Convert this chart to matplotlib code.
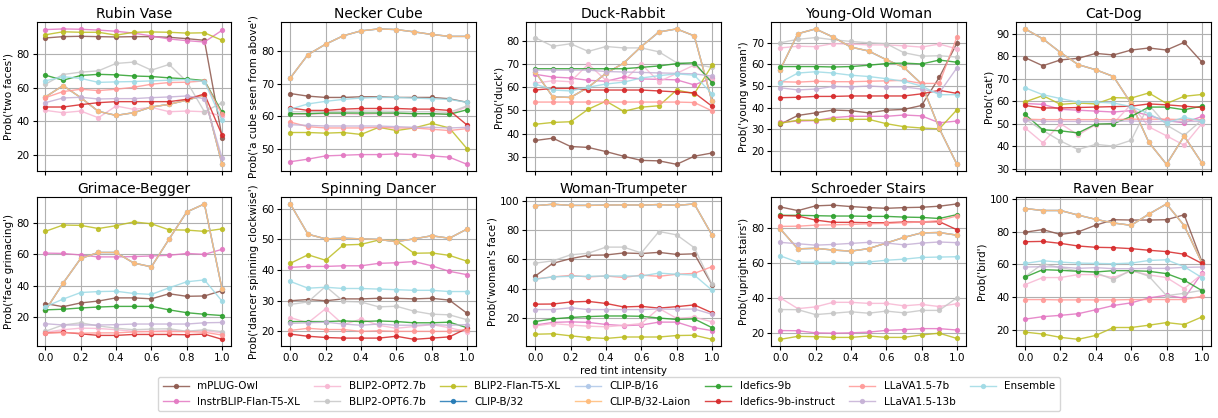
import matplotlib
matplotlib.use('Agg')
import matplotlib.pyplot as plt
from matplotlib.ticker import MultipleLocator

x = [0.0, 0.1, 0.2, 0.3, 0.4, 0.5, 0.6, 0.7, 0.8, 0.9, 1.0]

models = ['mPLUG-Owl', 'InstrBLIP-Flan-T5-XL', 'BLIP2-OPT2.7b', 'BLIP2-OPT6.7b',
          'BLIP2-Flan-T5-XL', 'CLIP-B/32', 'CLIP-B/16', 'CLIP-B/32-Laion',
          'Idefics-9b', 'Idefics-9b-instruct', 'LLaVA1.5-7b', 'LLaVA1.5-13b', 'Ensemble']
colors = ['#8c564b', '#e377c2', '#f7b6d2', '#c7c7c7', '#bcbd22', '#1f77b4', '#aec7e8',
          '#ffbb78', '#2ca02c', '#d62728', '#ff9896', '#c5b0d5', '#9edae5']

titles = ['Rubin Vase', 'Necker Cube', 'Duck-Rabbit', 'Young-Old Woman', 'Cat-Dog',
          'Grimace-Begger', 'Spinning Dancer', 'Woman-Trumpeter', 'Schroeder Stairs', 'Raven Bear']
ylabels = ["Prob('two faces')", "Prob('a cube seen from above')", "Prob('duck')",
           "Prob('young woman')", "Prob('cat')", "Prob('face grimacing')",
           "Prob('dancer spinning clockwise')", "Prob('woman's face')",
           "Prob('upright stairs')", "Prob('bird')"]
ysteps = [20, 10, 10, 10, 10, 20, 10, 20, 20, 20]

# the three CLIP models give the same curve, stored once under 'CLIP'
rubin = {
    'mPLUG-Owl': [89.6, 90.4, 90.6, 90.4, 90.2, 90.4, 90.4, 90.0, 89.2, 88.2, 30.2],
    'InstrBLIP-Flan-T5-XL': [94.6, 95.0, 94.8, 94.3, 93.6, 92.5, 90.8, 89.0, 88.0, 87.2, 94.2],
    'BLIP2-OPT2.7b': [46.4, 45.0, 46.0, 42.0, 49.0, 47.0, 48.2, 45.6, 46.0, 45.6, 43.0],
    'BLIP2-OPT6.7b': [62.0, 67.8, 69.2, 70.0, 74.4, 75.2, 70.4, 73.8, 63.6, 45.6, 51.0],
    'BLIP2-Flan-T5-XL': [91.5, 93.3, 93.0, 93.0, 91.3, 93.0, 93.2, 93.0, 92.5, 92.7, 88.2],
    'CLIP': [54.4, 61.2, 54.0, 45.8, 43.4, 45.0, 48.4, 50.0, 52.5, 55.4, 14.2],
    'Idefics-9b': [67.4, 64.4, 67.2, 67.9, 67.6, 66.9, 66.6, 65.8, 65.2, 64.2, 45.2],
    'Idefics-9b-instruct': [48.4, 48.4, 49.8, 51.0, 51.6, 51.6, 51.6, 51.6, 53.0, 56.2, 31.6],
    'LLaVA1.5-7b': [54.0, 57.6, 59.0, 58.2, 59.0, 60.2, 62.0, 63.0, 63.2, 64.0, 44.0],
    'LLaVA1.5-13b': [51.0, 53.8, 54.2, 53.2, 53.4, 53.4, 54.0, 54.4, 55.0, 53.4, 18.0],
    'Ensemble': [64.0, 66.5, 65.5, 63.1, 63.4, 63.6, 64.0, 64.4, 64.8, 63.6, 40.4],
}
necker = {
    'mPLUG-Owl': [67.0, 66.2, 65.8, 65.8, 66.0, 66.0, 65.8, 65.8, 65.8, 65.4, 64.3],
    'InstrBLIP-Flan-T5-XL': [46.0, 46.8, 47.8, 48.0, 48.2, 48.2, 48.4, 48.2, 47.8, 47.4, 45.2],
    'BLIP2-OPT2.7b': [60.6, 60.6, 60.8, 60.8, 60.6, 60.8, 60.8, 60.8, 60.8, 60.6, 63.0],
    'BLIP2-OPT6.7b': [61.4, 61.4, 61.5, 61.5, 61.6, 61.6, 61.5, 61.4, 61.4, 61.2, 63.2],
    'BLIP2-Flan-T5-XL': [55.0, 55.0, 54.8, 55.0, 54.4, 56.6, 55.6, 56.4, 57.8, 56.4, 50.0],
    'CLIP': [71.8, 79.0, 82.2, 84.8, 86.3, 86.9, 86.7, 86.0, 85.2, 84.6, 84.6],
    'Idefics-9b': [60.8, 60.8, 61.0, 61.0, 61.0, 61.0, 61.0, 60.8, 60.8, 60.6, 62.0],
    'Idefics-9b-instruct': [62.6, 61.8, 61.8, 62.2, 62.4, 62.4, 62.4, 62.2, 62.2, 61.8, 57.3],
    'LLaVA1.5-7b': [58.2, 56.8, 56.4, 56.4, 56.4, 56.6, 56.4, 56.4, 56.0, 55.6, 56.2],
    'LLaVA1.5-13b': [57.4, 57.2, 57.0, 57.0, 57.0, 57.0, 56.8, 56.6, 56.6, 56.4, 56.6],
    'Ensemble': [62.2, 63.8, 64.6, 65.2, 65.6, 65.8, 65.8, 65.6, 65.4, 65.2, 64.3],
}
duck = {
    'mPLUG-Owl': [37.0, 38.0, 34.4, 34.0, 32.2, 30.2, 28.4, 28.2, 26.7, 30.2, 31.6],
    'InstrBLIP-Flan-T5-XL': [65.6, 64.4, 64.0, 63.0, 62.6, 64.4, 63.6, 63.4, 63.2, 61.0, 64.0],
    'BLIP2-OPT2.7b': [61.8, 62.8, 62.4, 70.0, 63.0, 62.8, 70.0, 62.4, 66.0, 69.6, 63.0],
    'BLIP2-OPT6.7b': [81.4, 77.7, 78.8, 75.5, 77.6, 77.0, 77.0, 75.3, 70.6, 70.0, 68.6],
    'BLIP2-Flan-T5-XL': [44.0, 44.8, 45.1, 50.5, 54.0, 49.6, 51.4, 52.0, 58.8, 57.2, 69.4],
    'CLIP': [66.6, 55.8, 55.6, 60.0, 66.0, 70.4, 77.6, 83.9, 85.2, 82.2, 53.9],
    'Idefics-9b': [68.0, 68.0, 68.0, 68.0, 68.0, 68.0, 68.6, 69.2, 70.2, 70.6, 62.0],
    'Idefics-9b-instruct': [58.8, 59.5, 59.5, 58.8, 58.8, 58.8, 58.8, 58.4, 58.0, 57.6, 51.8],
    'LLaVA1.5-7b': [53.6, 53.6, 53.6, 53.6, 53.6, 53.6, 53.6, 53.6, 53.6, 53.4, 49.8],
    'LLaVA1.5-13b': [67.4, 67.4, 67.4, 67.4, 66.8, 66.6, 66.4, 66.2, 66.0, 65.8, 64.8],
    'Ensemble': [61.4, 58.8, 58.4, 60.0, 61.4, 62.2, 64.0, 65.0, 65.8, 65.2, 57.2],
}
young = {
    'mPLUG-Owl': [32.3, 36.4, 37.6, 38.9, 38.6, 37.6, 38.8, 39.2, 41.0, 54.0, 69.8],
    'InstrBLIP-Flan-T5-XL': [33.2, 33.8, 34.0, 35.4, 36.0, 36.0, 36.0, 36.6, 36.2, 33.0, 33.8],
    'BLIP2-OPT2.7b': [67.6, 68.4, 68.2, 69.6, 69.4, 69.0, 69.0, 68.6, 68.0, 69.4, 67.2],
    'BLIP2-OPT6.7b': [70.0, 71.6, 72.4, 71.4, 70.6, 70.0, 69.6, 65.4, 63.8, 64.0, 63.4],
    'BLIP2-Flan-T5-XL': [32.8, 34.2, 34.2, 34.6, 34.6, 34.6, 32.6, 31.2, 30.6, 30.2, 39.0],
    'CLIP': [57.6, 74.2, 76.4, 72.6, 68.0, 66.2, 62.2, 58.6, 51.0, 30.4, 13.8],
    'Idefics-9b': [59.0, 59.0, 59.0, 58.8, 59.0, 59.6, 60.4, 60.6, 60.2, 62.0, 61.0],
    'Idefics-9b-instruct': [44.6, 44.8, 45.2, 45.2, 45.4, 45.4, 45.4, 45.4, 46.4, 48.0, 46.6],
    'LLaVA1.5-7b': [52.0, 51.8, 52.2, 52.0, 52.0, 52.2, 52.4, 52.6, 51.2, 51.2, 72.6],
    'LLaVA1.5-13b': [49.2, 48.2, 48.6, 49.8, 49.6, 50.0, 49.6, 49.6, 48.6, 46.8, 58.4],
    'Ensemble': [51.6, 56.0, 56.6, 56.0, 55.0, 54.4, 53.4, 52.2, 50.0, 46.0, 46.0],
}
catdog = {
    'mPLUG-Owl': [79.4, 75.8, 78.4, 79.1, 81.3, 80.6, 82.8, 83.7, 82.8, 86.2, 77.5],
    'InstrBLIP-Flan-T5-XL': [59.0, 58.6, 56.4, 56.0, 55.6, 55.2, 55.8, 53.6, 51.4, 50.4, 53.2],
    'BLIP2-OPT2.7b': [48.1, 41.5, 50.0, 45.0, 49.6, 50.2, 58.6, 48.6, 44.6, 40.4, 50.0],
    'BLIP2-OPT6.7b': [52.0, 47.0, 42.3, 38.5, 40.8, 40.0, 42.6, 58.4, 49.4, 44.8, 51.6],
    'BLIP2-Flan-T5-XL': [59.7, 62.5, 58.6, 59.2, 58.8, 61.6, 61.4, 63.7, 59.0, 62.2, 63.0],
    'CLIP': [92.2, 87.8, 81.7, 76.3, 74.0, 71.0, 59.0, 41.7, 31.9, 44.5, 32.5],
    'Idefics-9b': [54.1, 47.3, 46.8, 45.9, 49.8, 50.0, 53.2, 57.4, 57.4, 56.2, 57.8],
    'Idefics-9b-instruct': [58.1, 57.0, 57.0, 57.2, 57.4, 57.6, 57.8, 58.8, 58.4, 57.8, 57.2],
    'LLaVA1.5-7b': [52.0, 51.8, 51.8, 51.8, 51.8, 51.8, 52.0, 52.0, 52.0, 51.8, 51.8],
    'LLaVA1.5-13b': [51.6, 51.0, 51.0, 51.0, 51.0, 51.0, 51.2, 51.0, 51.0, 51.0, 51.0],
    'Ensemble': [66.0, 62.9, 61.2, 59.6, 59.6, 59.2, 57.6, 54.4, 50.4, 52.8, 51.2],
}
grimace = {
    'mPLUG-Owl': [28.6, 26.6, 29.0, 30.2, 32.2, 32.2, 31.6, 34.8, 33.2, 33.4, 36.8],
    'InstrBLIP-Flan-T5-XL': [60.6, 60.4, 59.4, 58.2, 58.2, 58.4, 58.8, 59.2, 60.4, 59.8, 63.0],
    'BLIP2-OPT2.7b': [10.4, 12.0, 13.0, 12.8, 12.0, 11.0, 11.0, 11.6, 11.0, 11.4, 10.0],
    'BLIP2-OPT6.7b': [11.0, 15.0, 16.4, 14.4, 13.0, 12.0, 12.4, 12.6, 11.0, 12.0, 10.8],
    'BLIP2-Flan-T5-XL': [74.4, 78.4, 78.2, 76.2, 78.0, 80.4, 79.2, 75.4, 75.2, 74.4, 76.0],
    'CLIP': [24.2, 41.5, 57.2, 61.0, 61.0, 54.3, 51.9, 69.5, 86.7, 91.8, 37.6],
    'Idefics-9b': [24.6, 25.0, 25.8, 26.4, 26.8, 26.8, 26.8, 24.6, 22.8, 21.8, 21.0],
    'Idefics-9b-instruct': [10.0, 10.4, 9.4, 8.4, 8.4, 9.0, 9.0, 9.0, 8.8, 9.2, 5.9],
    'LLaVA1.5-7b': [10.0, 10.2, 9.8, 10.0, 10.0, 10.6, 10.8, 10.8, 10.8, 10.4, 8.6],
    'LLaVA1.5-13b': [15.8, 15.0, 15.0, 15.0, 15.2, 15.6, 15.6, 15.6, 15.6, 16.4, 16.6],
    'Ensemble': [26.6, 31.4, 35.6, 36.2, 36.4, 35.0, 34.4, 38.6, 42.4, 43.6, 30.1],
}
dancer = {
    'mPLUG-Owl': [30.0, 30.4, 30.0, 30.6, 30.6, 30.8, 30.8, 30.6, 30.8, 30.2, 25.9],
    'InstrBLIP-Flan-T5-XL': [40.9, 41.2, 41.2, 41.4, 41.4, 42.2, 42.4, 42.8, 41.4, 39.6, 38.5],
    'BLIP2-OPT2.7b': [24.5, 22.8, 27.4, 22.2, 24.0, 22.0, 21.0, 21.6, 22.2, 21.2, 19.8],
    'BLIP2-OPT6.7b': [28.8, 29.6, 34.7, 29.8, 29.6, 28.0, 28.2, 26.6, 25.6, 25.4, 23.8],
    'BLIP2-Flan-T5-XL': [42.2, 45.0, 43.2, 48.2, 48.4, 49.8, 49.6, 45.5, 45.6, 44.8, 42.9],
    'CLIP': [61.6, 51.7, 50.2, 50.4, 50.2, 50.0, 49.3, 50.2, 51.2, 50.4, 53.4],
    'Idefics-9b': [23.2, 23.2, 23.2, 23.4, 23.2, 23.4, 23.2, 22.8, 22.8, 23.0, 21.2],
    'Idefics-9b-instruct': [19.1, 18.4, 18.0, 17.8, 17.8, 17.8, 18.4, 17.4, 17.8, 18.2, 21.0],
    'LLaVA1.5-7b': [20.3, 21.0, 20.6, 20.6, 20.0, 20.2, 20.0, 20.0, 20.0, 20.0, 20.6],
    'LLaVA1.5-13b': [22.6, 22.8, 23.0, 22.4, 22.0, 22.4, 22.0, 22.0, 22.2, 22.0, 22.2],
    'Ensemble': [36.3, 34.1, 34.4, 34.0, 34.0, 33.8, 33.6, 33.4, 33.4, 33.0, 33.0],
}
trumpeter = {
    'mPLUG-Owl': [48.6, 57.3, 60.5, 62.8, 63.0, 64.4, 64.0, 64.8, 63.4, 63.8, 42.6],
    'InstrBLIP-Flan-T5-XL': [15.0, 16.8, 17.2, 16.8, 15.4, 14.6, 15.0, 17.0, 17.0, 13.2, 11.2],
    'BLIP2-OPT2.7b': [14.4, 16.0, 15.0, 14.2, 13.8, 14.8, 16.0, 26.4, 19.6, 20.4, 17.2],
    'BLIP2-OPT6.7b': [57.4, 59.0, 63.1, 64.2, 68.4, 68.4, 64.4, 79.1, 76.8, 68.0, 42.8],
    'BLIP2-Flan-T5-XL': [8.7, 9.0, 7.6, 6.4, 5.8, 6.8, 6.8, 6.8, 7.8, 8.0, 5.2],
    'CLIP': [96.8, 97.8, 97.0, 97.0, 97.2, 97.4, 97.2, 97.6, 97.0, 98.0, 76.7],
    'Idefics-9b': [17.4, 19.2, 20.2, 20.8, 21.2, 21.2, 21.0, 19.8, 18.8, 19.2, 13.2],
    'Idefics-9b-instruct': [29.3, 29.4, 30.8, 31.2, 29.8, 27.4, 27.8, 26.6, 27.6, 28.8, 23.4],
    'LLaVA1.5-7b': [46.6, 48.0, 49.0, 48.0, 48.6, 47.6, 49.2, 48.4, 49.8, 50.4, 55.0],
    'LLaVA1.5-13b': [25.6, 25.6, 26.8, 25.6, 25.6, 25.6, 25.6, 26.0, 25.8, 26.0, 22.4],
    'Ensemble': [46.4, 48.0, 48.4, 48.4, 48.6, 48.6, 48.6, 50.6, 49.8, 49.2, 38.9],
}
stairs = {
    'mPLUG-Owl': [92.0, 89.9, 92.6, 93.0, 92.2, 91.6, 91.2, 91.6, 91.8, 92.4, 93.7],
    'InstrBLIP-Flan-T5-XL': [21.5, 21.4, 20.2, 20.0, 20.2, 20.6, 21.6, 22.0, 22.6, 22.6, 21.8],
    'BLIP2-OPT2.7b': [40.2, 34.0, 35.0, 37.6, 37.6, 37.0, 37.0, 35.6, 36.4, 35.2, 36.8],
    'BLIP2-OPT6.7b': [33.5, 33.4, 30.6, 31.4, 32.2, 31.4, 32.6, 31.6, 33.0, 33.0, 40.2],
    'BLIP2-Flan-T5-XL': [16.5, 18.2, 18.0, 17.6, 17.6, 18.4, 17.6, 17.6, 19.0, 20.0, 17.0],
    'CLIP': [79.5, 68.1, 68.4, 67.4, 66.8, 68.2, 71.4, 74.6, 77.2, 77.4, 75.9],
    'Idefics-9b': [87.2, 87.2, 87.0, 86.8, 86.8, 86.6, 86.6, 86.2, 86.0, 85.4, 87.6],
    'Idefics-9b-instruct': [87.1, 86.8, 84.5, 83.2, 83.2, 83.0, 83.0, 83.4, 83.4, 83.6, 79.0],
    'LLaVA1.5-7b': [80.9, 81.0, 81.6, 81.8, 82.0, 82.4, 82.6, 83.0, 83.4, 84.2, 86.9],
    'LLaVA1.5-13b': [71.8, 71.0, 70.2, 70.6, 71.2, 71.8, 71.4, 70.4, 71.4, 72.0, 71.6],
    'Ensemble': [64.1, 60.5, 60.4, 60.4, 60.2, 60.6, 61.6, 62.2, 63.2, 63.4, 63.6],
}
raven = {
    'mPLUG-Owl': [79.6, 81.2, 78.2, 79.8, 83.9, 87.2, 87.0, 87.0, 87.2, 90.2, 61.8],
    'InstrBLIP-Flan-T5-XL': [26.7, 28.2, 29.0, 30.0, 32.4, 35.0, 36.6, 39.6, 41.2, 39.4, 54.5],
    'BLIP2-OPT2.7b': [47.7, 52.0, 52.0, 53.8, 53.8, 52.0, 56.0, 53.6, 52.0, 45.3, 54.0],
    'BLIP2-OPT6.7b': [52.6, 60.4, 58.0, 56.0, 55.0, 50.7, 56.6, 52.8, 41.0, 42.4, 44.2],
    'BLIP2-Flan-T5-XL': [18.8, 17.6, 15.6, 14.4, 16.8, 21.6, 21.6, 23.0, 24.6, 23.4, 28.0],
    'CLIP': [94.0, 92.8, 92.8, 90.0, 87.4, 85.2, 83.8, 90.6, 96.8, 83.6, 61.1],
    'Idefics-9b': [52.3, 56.8, 56.4, 55.8, 55.4, 56.2, 56.2, 55.8, 54.4, 50.4, 44.1],
    'Idefics-9b-instruct': [73.8, 74.0, 72.8, 71.2, 70.4, 70.2, 69.6, 68.6, 67.8, 66.2, 60.6],
    'LLaVA1.5-7b': [38.6, 38.6, 38.4, 38.4, 38.4, 38.4, 38.6, 38.6, 38.6, 38.6, 40.6],
    'LLaVA1.5-13b': [58.4, 58.6, 58.4, 57.6, 58.0, 57.4, 57.4, 57.6, 57.6, 58.2, 58.4],
    'Ensemble': [60.6, 62.2, 61.4, 60.8, 60.6, 60.4, 60.8, 62.4, 62.8, 58.6, 52.0],
}

illusions = [rubin, necker, duck, young, catdog, grimace, dancer, trumpeter, stairs, raven]

fig, axes = plt.subplots(2, 5, figsize=(12.18, 4.18), dpi=100, sharex=True)
plt.subplots_adjust(left=0.030, right=0.994, top=0.947, bottom=0.172, wspace=0.26, hspace=0.175)

for i, ax in enumerate(axes.flat):
    data = illusions[i]
    for m, c in zip(models, colors):
        key = 'CLIP' if m.startswith('CLIP') else m
        ax.plot(x, data[key], marker='o', markersize=2.8, linewidth=1.0, color=c,
                alpha=0.85, label=m)
    ax.set_title(titles[i], fontsize=10, pad=3)
    ax.set_ylabel(ylabels[i], fontsize=7.5, labelpad=2)
    ax.yaxis.set_major_locator(MultipleLocator(ysteps[i]))
    ax.xaxis.set_major_locator(MultipleLocator(0.2))
    ax.tick_params(labelsize=7.5, length=3, pad=2)
    ax.grid(True, color='#b0b0b0', linewidth=0.8)
    ax.set_axisbelow(True)

axes[1, 2].set_xlabel('red tint intensity', fontsize=7.5, labelpad=2)

handles, labels = axes[0, 0].get_legend_handles_labels()
fig.legend(handles, labels, loc='lower center', ncol=7, fontsize=7.5,
           bbox_to_anchor=(0.5, 0.005), handlelength=2.5, columnspacing=1.4)

fig.savefig('out.png', dpi=100)
